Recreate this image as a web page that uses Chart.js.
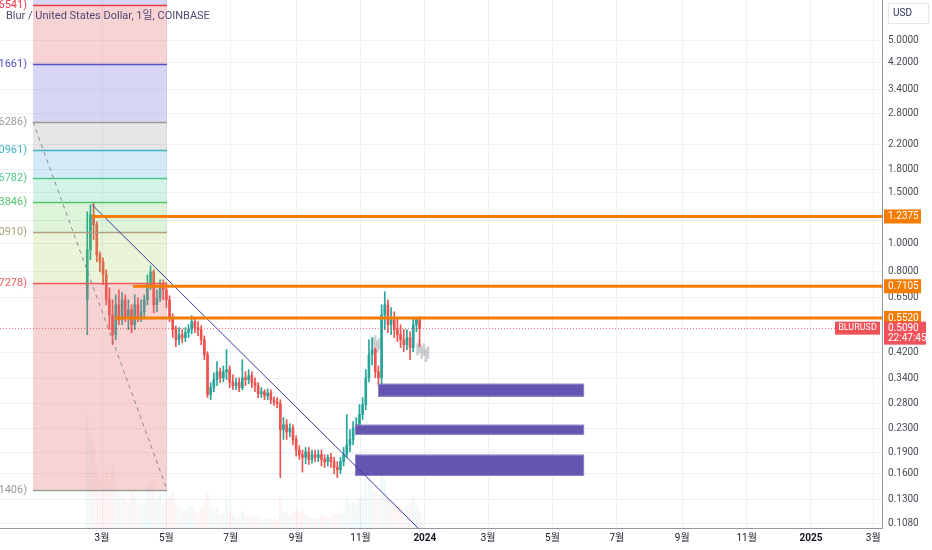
<!DOCTYPE html>
<html>
<head>
<meta charset="utf-8">
<script src="https://cdn.jsdelivr.net/npm/chart.js@4.4.1/dist/chart.umd.min.js"></script>
<style>
  html, body { margin: 0; padding: 0; background: #fff; }
  #wrap { position: relative; width: 932px; height: 550px; }
</style>
</head>
<body>
<div id="wrap"><canvas id="blurChart"></canvas></div>
<script>
// days counted from 2023-01-01, one candle every 3 days
const candleDays = [45,48,51,54,57,60,63,66,69,72,75,78,81,84,87,90,93,96,99,102,
  105,108,111,114,117,120,123,126,129,132,135,138,141,144,147,150,153,156,159,162,
  165,168,171,174,177,180,183,186,189,192,195,198,201,204,207,210,213,216,219,222,
  225,228,231,234,237,240,243,246,249,252,255,258,261,264,267,270,273,276,279,282,
  285,288,291,294,297,300,303,306,309,312,315,318,321,324,327,330,333,336,339,342,
  345,348,351,354,357,360];

const openPrices = [0.638,0.950,1.255,1.159,0.913,0.863,0.778,0.638,0.566,0.483,
  0.613,0.544,0.638,0.553,0.589,0.523,0.613,0.553,0.580,0.638,
  0.719,0.797,0.613,0.648,0.719,0.691,0.638,0.553,0.503,0.464,
  0.483,0.472,0.491,0.503,0.536,0.511,0.503,0.464,0.412,0.300,
  0.317,0.338,0.360,0.343,0.360,0.366,0.332,0.322,0.330,0.317,
  0.343,0.338,0.349,0.330,0.322,0.302,0.307,0.297,0.304,0.288,
  0.283,0.279,0.227,0.236,0.223,0.230,0.210,0.193,0.186,0.182,
  0.190,0.179,0.186,0.182,0.186,0.179,0.176,0.182,0.176,0.168,
  0.165,0.176,0.186,0.201,0.210,0.230,0.236,0.256,0.277,0.343,
  0.412,0.429,0.360,0.343,0.566,0.613,0.523,0.544,0.503,0.483,
  0.464,0.446,0.472,0.436,0.523,0.544];

const highPrices = [1.285,1.358,1.385,1.187,0.935,0.891,0.810,0.702,0.638,0.664,
  0.691,0.675,0.664,0.638,0.613,0.664,0.648,0.638,0.664,0.778,
  0.836,0.810,0.691,0.748,0.748,0.730,0.659,0.571,0.519,0.511,
  0.503,0.511,0.523,0.562,0.553,0.536,0.519,0.479,0.422,0.330,
  0.357,0.390,0.371,0.377,0.429,0.377,0.351,0.343,0.343,0.396,
  0.360,0.366,0.360,0.343,0.330,0.317,0.312,0.314,0.312,0.295,
  0.293,0.288,0.250,0.246,0.238,0.236,0.216,0.200,0.193,0.197,
  0.197,0.193,0.193,0.193,0.193,0.186,0.186,0.188,0.182,0.176,
  0.182,0.197,0.256,0.227,0.242,0.250,0.277,0.293,0.366,0.464,
  0.472,0.436,0.377,0.613,0.680,0.638,0.599,0.580,0.553,0.523,
  0.503,0.503,0.495,0.553,0.553,0.557];

const lowPrices = [0.483,0.877,1.028,0.863,0.797,0.719,0.613,0.503,0.446,0.464,
  0.523,0.523,0.536,0.503,0.491,0.503,0.536,0.536,0.553,0.613,
  0.691,0.575,0.580,0.628,0.638,0.599,0.536,0.472,0.439,0.446,
  0.453,0.457,0.472,0.487,0.491,0.479,0.446,0.396,0.293,0.288,
  0.307,0.322,0.330,0.332,0.338,0.317,0.312,0.312,0.307,0.312,
  0.322,0.327,0.317,0.307,0.293,0.293,0.288,0.288,0.279,0.275,
  0.270,0.155,0.210,0.210,0.215,0.201,0.184,0.179,0.162,0.173,
  0.172,0.174,0.176,0.176,0.170,0.168,0.170,0.168,0.160,0.155,
  0.160,0.170,0.182,0.190,0.201,0.220,0.227,0.246,0.266,0.332,
  0.380,0.343,0.322,0.324,0.503,0.491,0.483,0.472,0.457,0.436,
  0.422,0.429,0.396,0.422,0.495,0.439];

const closePrices = [0.950,1.255,1.159,0.913,0.863,0.778,0.638,0.566,0.483,0.613,
  0.544,0.638,0.553,0.589,0.523,0.613,0.553,0.580,0.638,0.719,
  0.797,0.613,0.648,0.719,0.691,0.638,0.553,0.503,0.464,0.483,
  0.472,0.491,0.503,0.536,0.511,0.503,0.464,0.412,0.300,0.317,
  0.338,0.360,0.343,0.360,0.366,0.332,0.322,0.330,0.317,0.343,
  0.338,0.349,0.330,0.322,0.302,0.307,0.297,0.304,0.288,0.283,
  0.279,0.227,0.236,0.223,0.230,0.210,0.193,0.186,0.182,0.190,
  0.179,0.186,0.182,0.186,0.179,0.176,0.182,0.176,0.168,0.165,
  0.176,0.186,0.201,0.210,0.230,0.236,0.256,0.277,0.343,0.412,
  0.429,0.360,0.343,0.566,0.613,0.523,0.544,0.503,0.483,0.464,
  0.446,0.472,0.436,0.523,0.544,0.509];

// volume in millions (rough)
const volumes = [400,330,300,220,180,150,200,170,210,150,
  120,110,100,90,120,110,90,80,90,150,
  160,170,100,120,90,100,110,130,90,70,
  60,60,70,80,60,50,70,90,120,80,
  60,70,50,50,100,60,50,40,40,60,
  40,40,40,35,40,30,30,30,35,30,
  30,110,60,50,40,50,60,50,60,45,
  40,35,35,30,40,40,30,35,45,50,
  50,60,110,80,90,80,100,110,170,180,
  150,120,100,200,170,120,100,90,80,80,
  70,80,90,110,80,60];

// faint "ghost" bars of the projection tool
const ghostDays = [316,318,320,322,358,360,362,364,366,368];
const ghostLow = [0.43,0.44,0.42,0.43,0.41,0.42,0.40,0.41,0.39,0.40];
const ghostHigh = [0.47,0.48,0.46,0.47,0.45,0.46,0.44,0.45,0.43,0.44];

const monthTickDays = [59,120,181,243,304,365,425,486,547,609,670,731,790];
const monthTickLabels = ['3월','5월','7월','9월','11월','2024','3월','5월','7월','9월','11월','2025','3월'];
const yearTickDays = [365,731];
const priceTicks = [5.0,4.2,3.4,2.8,2.2,1.8,1.5,1.2,1.0,0.8,0.65,0.42,0.34,0.28,0.23,0.19,0.16,0.13,0.108];

// fib retracement
const fibPrices = [6.6541,4.1661,2.6286,2.0961,1.6782,1.3846,1.0910,0.7278,0.1406];
const fibLineColors = ['#f23645','#5552c8','#9a9a9a','#3fb5c4','#4cc98a','#52c468','#ada07f','#f05a5a','#9a9a9a'];
const fibZoneFills = ['rgba(230,110,110,0.3)','rgba(110,110,220,0.28)','rgba(128,128,128,0.2)',
  'rgba(60,160,220,0.22)','rgba(60,200,150,0.22)','rgba(90,200,70,0.2)','rgba(150,200,60,0.2)','rgba(230,110,110,0.3)'];
const fibTopFill = 'rgba(110,110,220,0.28)';
const fibDays = [-6.4, 120.6];
const fibDiagonal = [[-6.4, 2.6286], [120.6, 0.1406]];

const trendLine = [[49.5, 1.36], [358.5, 0.1038]];
const orangeLevels = [1.2375, 0.7105, 0.5520];
const orangeStartDays = [49.5, 88.4, 71.3];
const zoneBoxes = [
  { from: 320.6, to: 515.9, top: 0.327, bottom: 0.295 },
  { from: 298.8, to: 515.9, top: 0.236, bottom: 0.218 },
  { from: 298.8, to: 515.9, top: 0.186, bottom: 0.157 }
];
const lastPrice = 0.509;

const UP = '#26a69a', DOWN = '#ef5350';
const FONT = 'Roboto, "Noto Sans CJK KR", sans-serif';

const isUp = closePrices.map((c, i) => c >= openPrices[i]);
const candleColors = isUp.map(u => u ? UP : DOWN);
const volColors = isUp.map(u => u ? 'rgba(38,166,154,0.07)' : 'rgba(239,83,80,0.07)');

const bodies = candleDays.map((d, i) => ({ x: d, y: [openPrices[i], closePrices[i]] }));
const wicks = candleDays.map((d, i) => ({ x: d, y: [lowPrices[i], highPrices[i]] }));
const vols = candleDays.map((d, i) => ({ x: d, y: volumes[i] }));
const ghosts = ghostDays.map((d, i) => ({ x: d, y: [ghostLow[i], ghostHigh[i]] }));

function noPad(s) {
  s.paddingTop = 0; s.paddingBottom = 0; s.paddingLeft = 0; s.paddingRight = 0;
}

const drawings = {
  id: 'drawings',
  afterDatasetsDraw(chart) {
    const { ctx, chartArea: a, scales: { x, y } } = chart;
    const px = v => x.getPixelForValue(v);
    const py = v => y.getPixelForValue(v);
    ctx.save();
    ctx.beginPath();
    ctx.rect(a.left, a.top, a.right - a.left, a.bottom - a.top);
    ctx.clip();

    // fib zones
    const fx0 = px(fibDays[0]), fx1 = px(fibDays[1]);
    let prev = a.top;
    fibPrices.forEach((p, i) => {
      const ly = py(p);
      ctx.fillStyle = i === 0 ? fibTopFill : fibZoneFills[i - 1];
      ctx.fillRect(fx0, prev, fx1 - fx0, ly - prev);
      prev = ly;
    });
    ctx.lineWidth = 1.5;
    ctx.font = '11px ' + FONT;
    ctx.textAlign = 'right';
    ctx.textBaseline = 'middle';
    fibPrices.forEach((p, i) => {
      const ly = Math.round(py(p)) + 0.5;
      ctx.strokeStyle = fibLineColors[i];
      ctx.beginPath(); ctx.moveTo(fx0, ly); ctx.lineTo(fx1, ly); ctx.stroke();
      ctx.fillStyle = fibLineColors[i];
      ctx.fillText('(' + p.toFixed(4) + ')', fx0 - 6, ly);
    });
    // fib diagonal
    ctx.strokeStyle = '#8a8a8a';
    ctx.lineWidth = 1;
    ctx.setLineDash([4, 4]);
    ctx.beginPath();
    ctx.moveTo(px(fibDiagonal[0][0]), py(fibDiagonal[0][1]));
    ctx.lineTo(px(fibDiagonal[1][0]), py(fibDiagonal[1][1]));
    ctx.stroke();
    ctx.setLineDash([]);

    // purple zones
    zoneBoxes.forEach(b => {
      const x0 = px(b.from), x1 = px(b.to), y0 = py(b.top), y1 = py(b.bottom);
      ctx.fillStyle = '#6655b0';
      ctx.fillRect(x0, y0, x1 - x0, y1 - y0);
      ctx.strokeStyle = '#8f84c9';
      ctx.strokeRect(x0 + 0.5, y0 + 0.5, x1 - x0 - 1, y1 - y0 - 1);
    });

    // descending trend line
    ctx.strokeStyle = '#3b3a9c';
    ctx.lineWidth = 1;
    ctx.beginPath();
    ctx.moveTo(px(trendLine[0][0]), py(trendLine[0][1]));
    ctx.lineTo(px(trendLine[1][0]), py(trendLine[1][1]));
    ctx.stroke();

    // last price dotted line
    ctx.strokeStyle = 'rgba(242,54,69,0.7)';
    ctx.setLineDash([1, 2]);
    const lp = Math.round(py(lastPrice)) + 0.5;
    ctx.beginPath(); ctx.moveTo(a.left, lp); ctx.lineTo(a.right, lp); ctx.stroke();
    ctx.setLineDash([]);

    // orange horizontal levels
    ctx.strokeStyle = '#f57c00';
    ctx.lineWidth = 3;
    orangeLevels.forEach((p, i) => {
      const ly = py(p);
      ctx.beginPath(); ctx.moveTo(px(orangeStartDays[i]), ly); ctx.lineTo(a.right, ly); ctx.stroke();
    });
    ctx.restore();
  },
  afterDraw(chart) {
    const { ctx, chartArea: a, scales: { y } } = chart;
    ctx.save();
    ctx.textBaseline = 'middle';
    // legend title
    ctx.font = '11px ' + FONT;
    ctx.fillStyle = '#4f4872';
    ctx.textAlign = 'left';
    ctx.fillText('Blur / United States Dollar, 1일, COINBASE', 6, 16);

    // currency box
    ctx.strokeStyle = '#e6e8ee';
    ctx.lineWidth = 1;
    ctx.strokeRect(888.5, 3.5, 40, 20);
    ctx.font = '10px ' + FONT;
    ctx.fillStyle = '#2a2e5a';
    ctx.fillText('USD', 893, 13.5);

    const axisX = a.right + 2;
    ctx.font = '10px ' + FONT;
    orangeLevels.forEach(p => {
      const ly = y.getPixelForValue(p);
      ctx.fillStyle = '#f57c00';
      ctx.fillRect(axisX, ly - 7, 37, 14);
      ctx.fillStyle = '#fff';
      ctx.fillText(p.toFixed(4), axisX + 4, ly + 0.5);
    });
    // last price tag
    const ly = y.getPixelForValue(lastPrice);
    ctx.fillStyle = '#f0525a';
    ctx.fillRect(axisX, ly - 6.5, 42, 23);
    ctx.fillRect(a.right - 47, ly - 6.5, 45, 13);
    ctx.fillStyle = '#fff';
    ctx.fillText(lastPrice.toFixed(4), axisX + 4, ly);
    ctx.fillText('22:47:45', axisX + 4, ly + 10.5);
    ctx.font = '9px ' + FONT;
    ctx.textAlign = 'center';
    ctx.fillText('BLURUSD', a.right - 24.5, ly);
    ctx.restore();
  }
};

new Chart(document.getElementById('blurChart'), {
  type: 'bar',
  data: {
    datasets: [
      { data: bodies, backgroundColor: candleColors, barThickness: 2, minBarLength: 1, grouped: false, yAxisID: 'y' },
      { data: wicks, backgroundColor: candleColors, barThickness: 1, grouped: false, yAxisID: 'y' },
      { data: ghosts, backgroundColor: 'rgba(130,130,140,0.35)', barThickness: 2, grouped: false, yAxisID: 'y' },
      { data: vols, backgroundColor: volColors, barThickness: 2, grouped: false, yAxisID: 'vol' }
    ]
  },
  options: {
    responsive: true,
    maintainAspectRatio: false,
    animation: false,
    layout: { padding: 0 },
    plugins: { legend: { display: false }, tooltip: { enabled: false } },
    scales: {
      x: {
        type: 'linear',
        min: -37.7,
        max: 798.3,
        offset: false,
        afterBuildTicks: s => { s.ticks = monthTickDays.map(v => ({ value: v })); },
        afterFit: s => { s.height = 22; noPad(s); },
        ticks: {
          autoSkip: false,
          maxRotation: 0,
          padding: 4,
          color: '#131722',
          callback: (v, i) => monthTickLabels[i],
          font: c => ({ family: FONT, size: 10, weight: (c.tick && yearTickDays.includes(c.tick.value)) ? 'bold' : 'normal' })
        },
        grid: { color: '#eef1f6', drawTicks: false, offset: false },
        border: { color: '#9598a1' }
      },
      y: {
        type: 'logarithmic',
        position: 'right',
        min: 0.1038,
        max: 6.928,
        afterBuildTicks: s => { s.ticks = priceTicks.map(v => ({ value: v })); },
        afterFit: s => { s.width = 50; noPad(s); },
        ticks: {
          autoSkip: false,
          padding: 6,
          color: '#4a4d57',
          font: { family: FONT, size: 10 },
          callback: v => Number(v).toFixed(4)
        },
        grid: { color: '#eef1f6', drawTicks: false },
        border: { color: '#9598a1' }
      },
      vol: {
        type: 'linear',
        display: false,
        min: 0,
        max: 1850
      }
    }
  },
  plugins: [drawings]
});
</script>
</body>
</html>
